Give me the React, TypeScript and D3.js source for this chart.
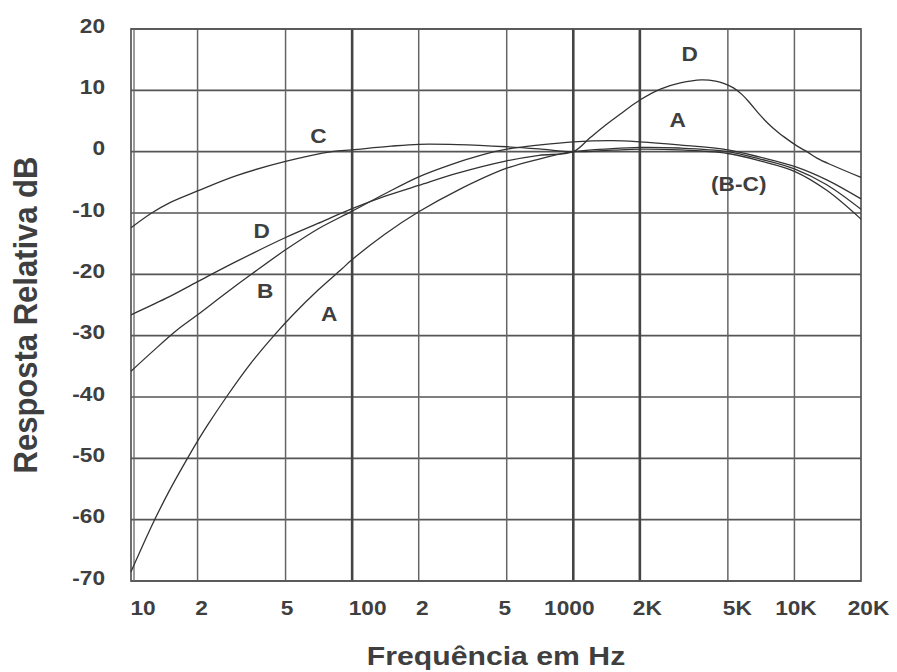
import React from 'react';
import * as d3 from 'd3';

const W = 897;
const H = 672;

// Frequency axis (log), grid lines and their labels
const freqTicks = [10, 20, 50, 100, 200, 500, 1000, 2000, 5000, 10000, 20000];
const freqTickLabels = ['10', '2', '5', '100', '2', '5', '1000', '2K', '5K', '10K', '20K'];
const freqLabelNudge = [12, 4, 1.5, 15.5, 3.5, -2, -4, 7.5, 9.5, 1.5, 7.5];
const heavyFreqLines = [100, 1000, 2000];

// Relative response axis (dB)
const dbTicks = [20, 10, 0, -10, -20, -30, -40, -50, -60, -70];

// Curve A
const freqA = [10, 12.6, 15, 18, 20, 22, 27, 35, 45, 55, 70, 90, 100, 140, 200, 300, 500, 700, 1000, 1500, 2000, 3000, 5000, 7000, 10000, 14000, 20000];
const dbA = [-68.5, -60.5, -55.1, -50, -47.2, -44.8, -40, -34.4, -29.7, -26.3, -22.6, -19.1, -17.6, -13.5, -9.8, -6.3, -2.7, -1.2, 0, 0.5, 0.7, 0.6, 0, -1.2, -2.8, -5.4, -9.4];

// Curve B
const freqB = [10, 12.5, 16, 20, 27, 35, 50, 70, 100, 140, 200, 280, 380, 500, 710, 1000, 1500, 2000, 3000, 5000, 7000, 10000, 14000, 20000];
const dbB = [-35.8, -32.6, -29.2, -26.6, -23, -20, -16, -12.6, -9.7, -6.9, -4.1, -2.1, -0.6, 0.4, 1.1, 1.6, 1.8, 1.6, 1.1, 0.3, -0.9, -2.4, -4.6, -7.7];

// Curve C
const freqC = [10, 12.4, 15, 20, 30, 50, 81, 100, 150, 200, 300, 500, 700, 1000, 1500, 2000, 3000, 5000, 7000, 10000, 14000, 20000];
const dbC = [-12.4, -10, -8.3, -6.4, -3.9, -1.6, 0, 0.3, 0.9, 1.2, 1.15, 0.8, 0.45, 0, 0.25, 0.4, 0.3, -0.3, -1.5, -3.2, -6.3, -11];

// Curve D
const freqD = [10, 15, 20, 30, 50, 70, 100, 140, 200, 300, 500, 700, 1000, 1194, 1396, 1633, 2010, 2477, 3050, 3800, 4400, 4820, 5300, 5800, 6300, 6900, 7600, 8400, 9300, 10300, 11400, 12700, 15000, 20000];
const dbD = [-26.6, -23.6, -21.2, -17.9, -14, -11.7, -9.3, -7.3, -5.5, -3.5, -1.5, -0.6, 0, 2.3, 4.3, 6.15, 8.46, 10.2, 11.2, 11.7, 11.5, 11.1, 10.4, 9.3, 7.9, 6.2, 4.6, 3.2, 2.0, 0.9, 0, -1.1, -2.3, -4.2];

// Curve name tags, placed in data coordinates
const tagText = ['C', 'D', 'B', 'A', 'D', 'A', '(B-C)'];
const tagFreq = [70.4, 39, 40.4, 78.7, 3360, 2965, 5600];
const tagDb = [2.7, -12.8, -22.6, -26.4, 16.0, 5.2, -5.2];

const FONT = "'Liberation Sans', Arial, Helvetica, sans-serif";
const INK = '#3f3f3f';
const STRETCH = 1.08;

export default function App() {
  const x = d3.scaleLog().domain([10, 20000]).range([131, 861]);
  const y = d3.scaleLinear().domain([-70, 20]).range([581, 29]);

  const line = d3
    .line<[number, number]>()
    .x((d) => x(d[0]))
    .y((d) => y(d[1]))
    .curve(d3.curveCatmullRom.alpha(0.5));

  const series: [number[], number[]][] = [
    [freqA, dbA],
    [freqB, dbB],
    [freqC, dbC],
    [freqD, dbD],
  ];

  const x0 = x(10);
  const x1 = x(20000);
  const yTop = y(20);
  const yBot = y(-70);

  return (
    <svg
      width={W}
      height={H}
      style={{ position: 'absolute', left: 0, top: 0, background: '#fff' }}
      fontFamily={FONT}
    >
      <rect x={0} y={0} width={W} height={H} fill="#fff" />

      {/* horizontal grid */}
      {dbTicks.map((v) => (
        <line key={'h' + v} x1={x0} x2={x1} y1={y(v)} y2={y(v)} stroke="#555" strokeWidth={1.7} />
      ))}

      {/* vertical grid */}
      {freqTicks.slice(1, -1).map((f) => (
        <line
          key={'v' + f}
          x1={x(f)}
          x2={x(f)}
          y1={yTop}
          y2={yBot}
          stroke={heavyFreqLines.includes(f) ? '#444' : '#666'}
          strokeWidth={heavyFreqLines.includes(f) ? 2.6 : 1.5}
        />
      ))}

      {/* frame, with a doubled left edge */}
      <rect x={x0} y={yTop} width={x1 - x0} height={yBot - yTop} fill="none" stroke="#555" strokeWidth={1.7} />
      <line x1={x0 + 3} x2={x0 + 3} y1={yTop} y2={yBot} stroke="#666" strokeWidth={1.3} />

      {/* response curves */}
      {series.map(([fs, ds], i) => (
        <path
          key={'c' + i}
          d={line(fs.map((f, j) => [f, ds[j]] as [number, number])) || ''}
          fill="none"
          stroke="#333"
          strokeWidth={1.3}
        />
      ))}

      {/* curve tags */}
      {tagText.map((t, i) => (
        <g key={'t' + i} transform={`translate(${x(tagFreq[i])},${y(tagDb[i])}) scale(${STRETCH},1)`}>
          <text textAnchor="middle" dy="0.36em" fontSize={21} fontWeight="bold" fill={INK}>
            {t}
          </text>
        </g>
      ))}

      {/* dB tick labels */}
      {dbTicks.map((v) => (
        <g key={'yl' + v} transform={`translate(105,${y(v) - 4}) scale(${STRETCH},1)`}>
          <text textAnchor="end" dy="0.36em" fontSize={21} fontWeight="bold" fill={INK}>
            {v}
          </text>
        </g>
      ))}

      {/* frequency tick labels */}
      {freqTicks.map((f, i) => (
        <g key={'xl' + f} transform={`translate(${x(f) + freqLabelNudge[i]},615) scale(${STRETCH},1)`}>
          <text textAnchor="middle" fontSize={21} fontWeight="bold" fill={INK}>
            {freqTickLabels[i]}
          </text>
        </g>
      ))}

      {/* axis titles */}
      <g transform={`translate(496,665) scale(1.14,1)`}>
        <text textAnchor="middle" fontSize={26.5} fontWeight="bold" fill={INK}>
          Frequência em Hz
        </text>
      </g>
      <g transform={`translate(36.5,315) scale(${STRETCH},1) rotate(-90)`}>
        <text textAnchor="middle" fontSize={31} fontWeight="bold" fill={INK}>
          Resposta Relativa dB
        </text>
      </g>
    </svg>
  );
}
